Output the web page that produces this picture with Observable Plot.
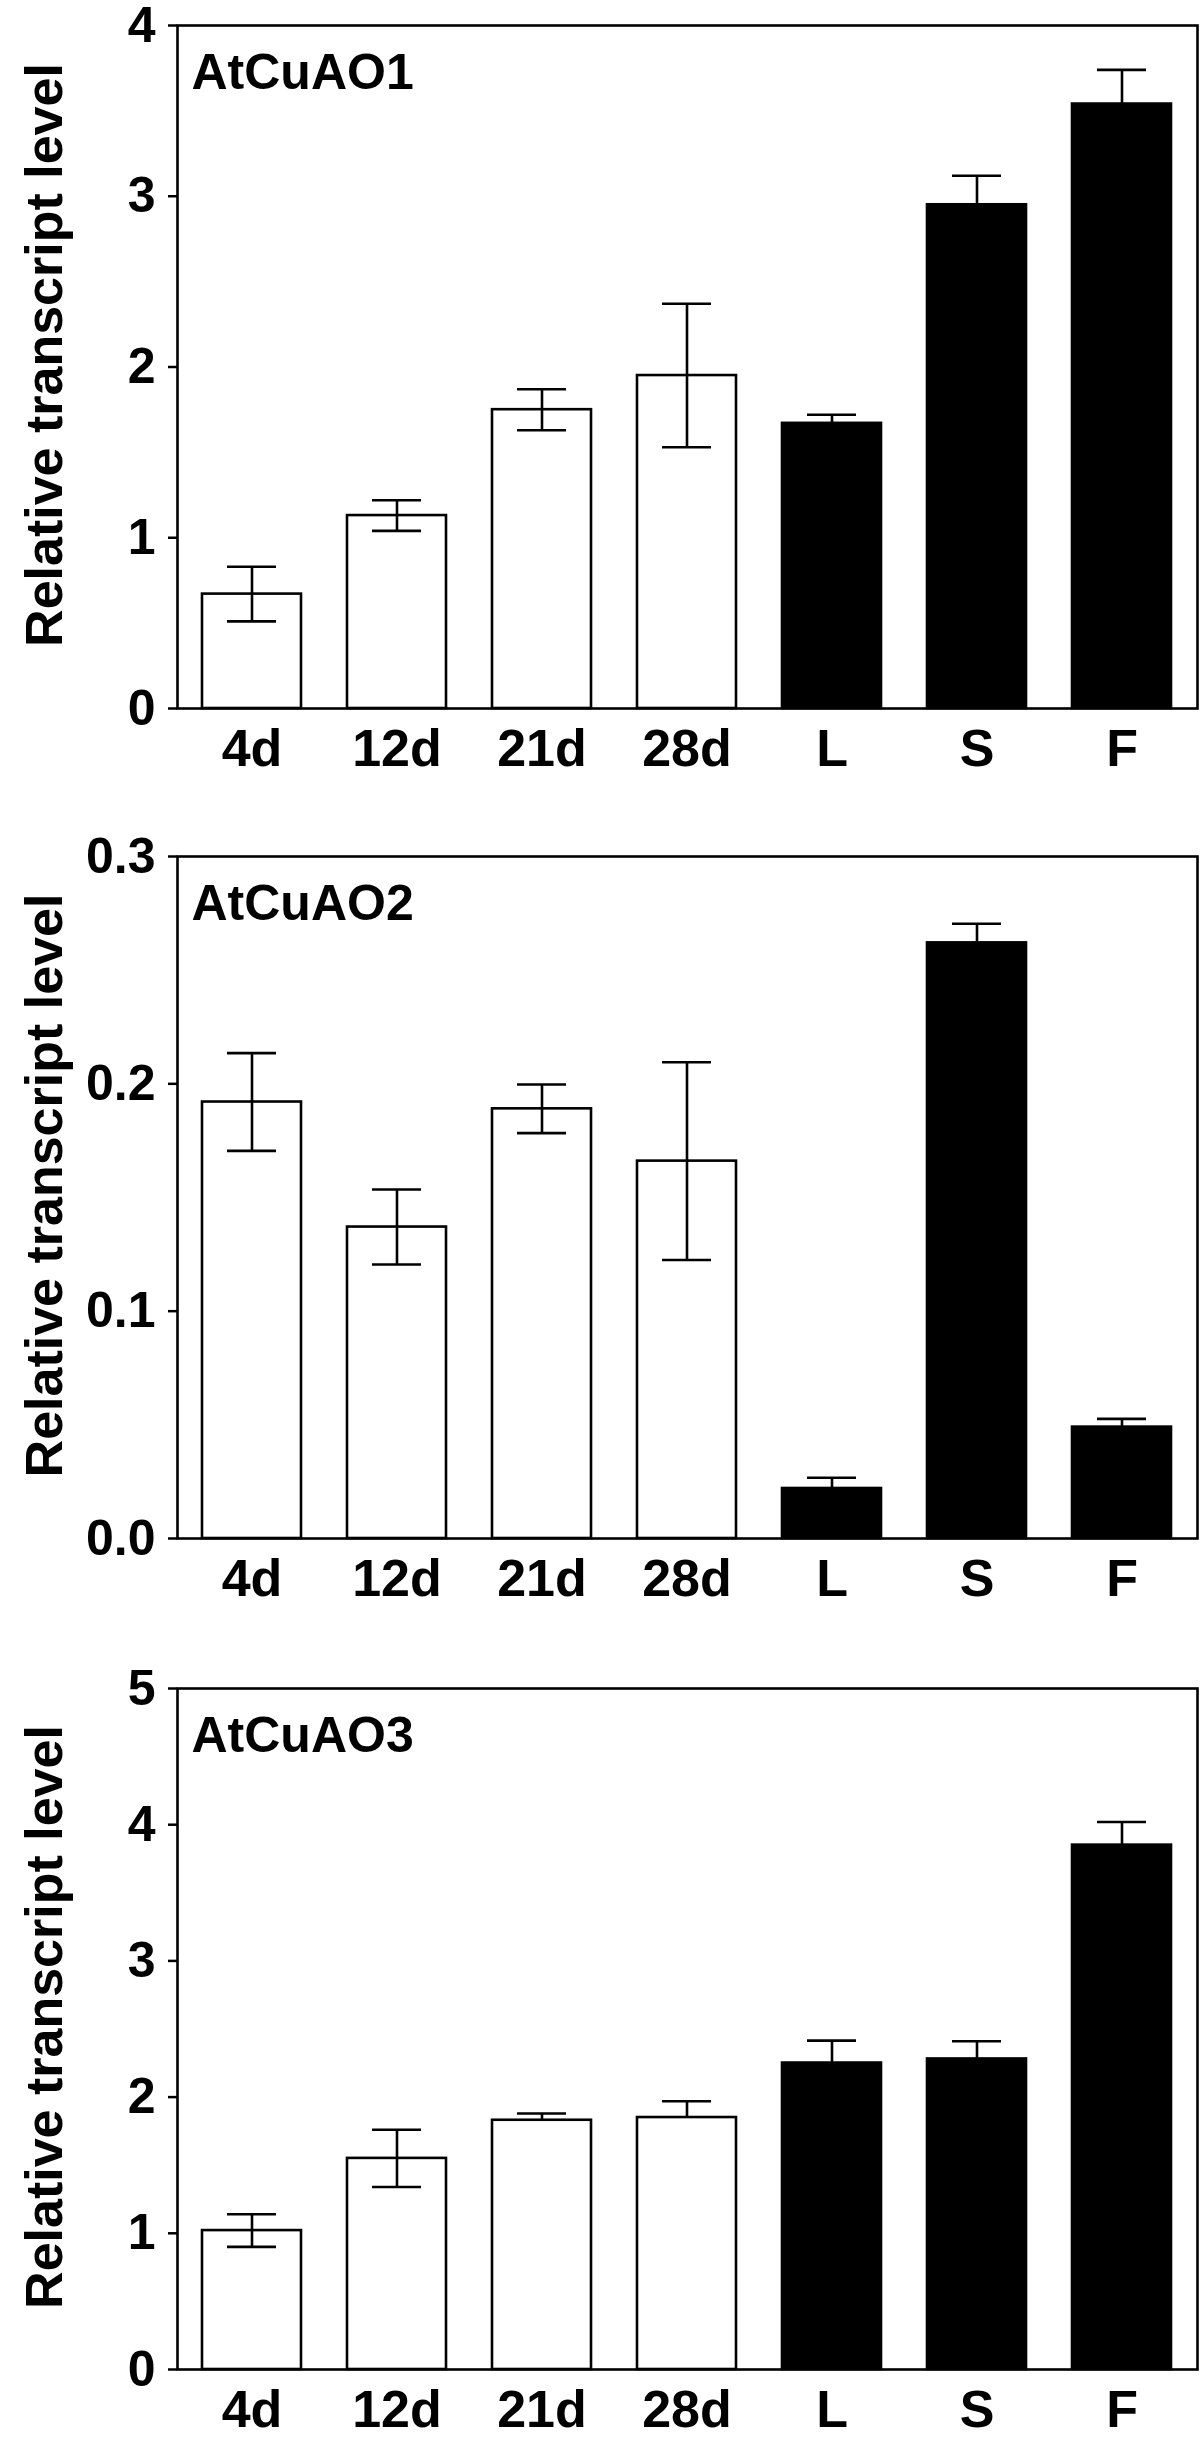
<!DOCTYPE html>
<html>
<head>
<meta charset="utf-8">
<script src="https://cdn.jsdelivr.net/npm/d3@7"></script>
<script src="https://cdn.jsdelivr.net/npm/@observablehq/plot@0.6"></script>
<style>
  html, body { margin: 0; padding: 0; background: #fff; }
  #chart > svg { display: block; }
</style>
</head>
<body>
<div id="chart"></div>
<script>
// ---- data ----
const categories = ["4d", "12d", "21d", "28d", "L", "S", "F"];
const sampleGroup = ["age", "age", "age", "age", "organ", "organ", "organ"];
const yLabel = "Relative transcript level";

const gene1 = "AtCuAO1";
const values1 = [0.67, 1.13, 1.75, 1.95, 1.67, 2.95, 3.54];
const errUp1 = [0.16, 0.09, 0.12, 0.42, 0.05, 0.17, 0.20];
const errDown1 = [0.16, 0.09, 0.12, 0.42, 0.05, 0.17, 0.20];
const ticks1 = [0, 1, 2, 3, 4];

const gene2 = "AtCuAO2";
const values2 = [0.192, 0.137, 0.189, 0.166, 0.022, 0.262, 0.049];
const errUp2 = [0.0215, 0.0165, 0.0107, 0.0435, 0.0047, 0.0084, 0.0036];
const errDown2 = [0.0215, 0.0165, 0.0107, 0.0435, 0.0047, 0.0084, 0.0036];
const ticks2 = [0, 0.1, 0.2, 0.3];

const gene3 = "AtCuAO3";
const values3 = [1.02, 1.55, 1.83, 1.85, 2.25, 2.28, 3.85];
const errUp3 = [0.12, 0.21, 0.05, 0.12, 0.165, 0.13, 0.17];
const errDown3 = [0.12, 0.21, 0, 0, 0.165, 0.13, 0.17];
const ticks3 = [0, 1, 2, 3, 4, 5];

// ---- drawing ----
const FONT = "'Liberation Sans', Arial, Helvetica, sans-serif";
const fillFor = g => g === "organ" ? "black" : "white";

function panel({gene, values, errUp, errDown, ticks, fmt, height, marginTop, marginBottom}) {
  const rows = categories.map((c, i) => ({
    cat: c, group: sampleGroup[i], v: values[i],
    lo: values[i] - errDown[i], hi: values[i] + errUp[i], hasLow: errDown[i] > 0
  }));
  return Plot.plot({
    width: 1200,
    height,
    marginTop,
    marginBottom,
    marginLeft: 177,
    marginRight: 3,
    style: {fontFamily: FONT, fontWeight: "bold", fontSize: "50px", background: "white", color: "black", overflow: "visible"},
    x: {domain: categories, paddingInner: 0.315, paddingOuter: 0.16, label: null},
    y: {domain: [ticks[0], ticks[ticks.length - 1]], label: null},
    marks: [
      Plot.barY(rows, {x: "cat", y: "v", fill: d => fillFor(d.group), stroke: "black", strokeWidth: 2.6}),
      Plot.ruleX(rows, {x: "cat", y1: "lo", y2: "hi", stroke: "black", strokeWidth: 2.6}),
      Plot.tickY(rows, {x: "cat", y: "hi", stroke: "black", strokeWidth: 2.6, insetLeft: 25, insetRight: 25}),
      Plot.tickY(rows.filter(d => d.hasLow), {x: "cat", y: "lo", stroke: "black", strokeWidth: 2.6, insetLeft: 25, insetRight: 25}),
      Plot.axisY({ticks, tickFormat: fmt, tickSize: 9, tickPadding: 13, strokeWidth: 2.5, label: null, fontSize: 50, fontWeight: "bold"}),
      Plot.axisX({tickSize: 0, tickPadding: 21, label: null, fontSize: 52, fontWeight: "bold"}),
      Plot.frame({stroke: "black", strokeWidth: 2.6}),
      Plot.text([gene], {text: d => d, frameAnchor: "top-left", textAnchor: "start", lineAnchor: "top", dx: 14, dy: 28, fontSize: 50, fontWeight: "bold"}),
      Plot.text([yLabel], {text: d => d, frameAnchor: "left", rotate: -90, textAnchor: "middle", lineAnchor: "middle", dx: -132, dy: -12, fontSize: 52, fontWeight: "bold"})
    ]
  });
}

const chart = document.getElementById("chart");
chart.append(panel({gene: gene1, values: values1, errUp: errUp1, errDown: errDown1, ticks: ticks1, fmt: d3.format("d"), height: 800, marginTop: 25, marginBottom: 92}));
chart.append(panel({gene: gene2, values: values2, errUp: errUp2, errDown: errDown2, ticks: ticks2, fmt: d3.format(".1f"), height: 800, marginTop: 56, marginBottom: 62}));
chart.append(panel({gene: gene3, values: values3, errUp: errUp3, errDown: errDown3, ticks: ticks3, fmt: d3.format("d"), height: 840, marginTop: 88, marginBottom: 71}));
</script>
</body>
</html>
